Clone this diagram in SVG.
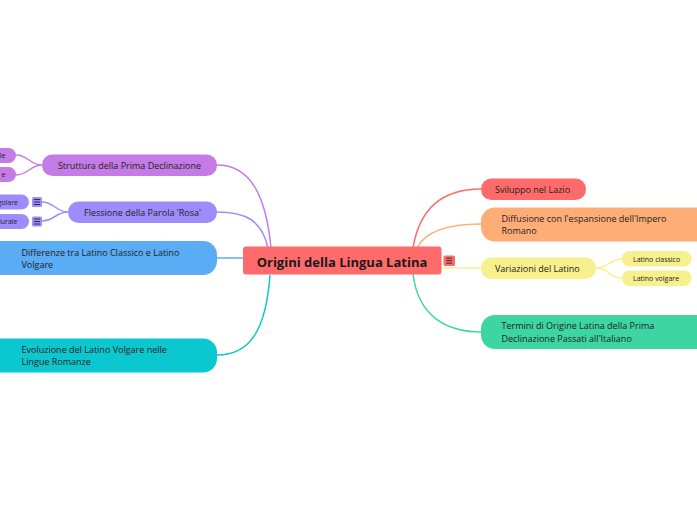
<svg xmlns="http://www.w3.org/2000/svg" width="697" height="520" viewBox="0 0 697 520">
<style>
.t{font-family:"Open Sans","Noto Sans",sans-serif;font-size:9px;fill:#222}
.s{font-family:"Open Sans","Noto Sans",sans-serif;font-size:7px;fill:#222}
.c{fill:none;stroke-width:1.5}
.ic{stroke:#333;stroke-width:1}
</style>
<defs>
<g id="icon"><line x1="-3" y1="-2.5" x2="3" y2="-2.5"/><line x1="-3" y1="0" x2="3" y2="0"/><line x1="-3" y1="2.5" x2="3" y2="2.5"/></g>
</defs>
<rect width="697" height="520" fill="#fff"/>
<g id="connectors">
<path class="c" stroke="#c57be5" d="M271,248 C266,195 250,165 217,165"/>
<path class="c" stroke="#9e8cfc" d="M268,248 C262,220 245,212 217,212"/>
<path class="c" stroke="#5aacf4" d="M217,258 L243,258"/>
<path class="c" stroke="#0ac7d0" d="M270,275 C266,330 250,355 217,355"/>
<path class="c" stroke="#ff6b6b" d="M413,248 C420,205 445,189 481,189"/>
<path class="c" stroke="#ffad77" d="M417,248 C425,232 445,224 481,224"/>
<path class="c" stroke="#f7f08c" d="M441,268 L481,268"/>
<path class="c" stroke="#3dd6a3" d="M413,274 C418,315 445,332 481,332"/>
<path class="c" stroke="#c57be5" d="M42,165 C30,165 28,155 16,155 M42,165 C30,165 28,175 16,175"/>
<path class="c" stroke="#9e8cfc" d="M68,212 C56,212 54,202 42,202 M68,212 C56,212 54,221 42,221"/>
<path class="c" stroke="#f7f08c" d="M596,268 C610,268 608,259 622,259 M596,268 C610,268 608,278 622,278"/>
</g>
<g id="central">
<rect x="243" y="246.5" width="198.5" height="28" rx="3" fill="#ff6b6b"/>
<text x="342" y="267" text-anchor="middle" style="font-family:'Open Sans','Noto Sans',sans-serif;font-size:13px;font-weight:bold;fill:#1a1a1a">Origini della Lingua Latina</text>
<rect x="443.5" y="255.5" width="11.5" height="10.5" rx="1.5" fill="#ff6b6b"/>
<use href="#icon" x="449.2" y="260.7" class="ic"/>
</g>
<g id="n-struttura">
<rect x="42" y="154.5" width="175" height="21.5" rx="10.5" fill="#c57be5"/>
<text class="t" x="129.5" y="168.5" text-anchor="middle">Struttura della Prima Declinazione</text>
</g>
<g id="n-struttura-a">
<rect x="-20" y="148" width="36" height="15" rx="7.5" fill="#c57be5"/>
<text class="s" x="5.5" y="158.3" text-anchor="end">le</text>
</g>
<g id="n-struttura-b">
<rect x="-20" y="167" width="36" height="15" rx="7.5" fill="#c57be5"/>
<text class="s" x="5.5" y="177.3" text-anchor="end">e</text>
</g>
<g id="n-flessione">
<rect x="68" y="201.5" width="149" height="21.5" rx="10.5" fill="#9e8cfc"/>
<text class="t" x="142.5" y="215.5" text-anchor="middle">Flessione della Parola 'Rosa'</text>
</g>
<g id="n-singolare">
<rect x="-20" y="194.5" width="49" height="15" rx="7.5" fill="#9e8cfc"/>
<text class="s" x="18" y="204.5" text-anchor="end">Singolare</text>
<rect x="32" y="197" width="10" height="10" rx="1.5" fill="#9e8cfc"/>
<use href="#icon" x="37" y="202" class="ic"/>
</g>
<g id="n-plurale">
<rect x="-20" y="214" width="49" height="15" rx="7.5" fill="#9e8cfc"/>
<text class="s" x="17.5" y="224" text-anchor="end">Plurale</text>
<rect x="32" y="216.5" width="10" height="10" rx="1.5" fill="#9e8cfc"/>
<use href="#icon" x="37" y="221.5" class="ic"/>
</g>
<g id="n-differenze">
<rect x="-20" y="241" width="237" height="34" rx="14" fill="#5aacf4"/>
<text class="t" x="21.5" y="255.5">Differenze tra Latino Classico e Latino</text>
<text class="t" x="21.5" y="267.5">Volgare</text>
</g>
<g id="n-evoluzione">
<rect x="-20" y="338.5" width="237" height="34" rx="14" fill="#0ac7d0"/>
<text class="t" x="21.5" y="353">Evoluzione del Latino Volgare nelle</text>
<text class="t" x="21.5" y="365">Lingue Romanze</text>
</g>
<g id="n-sviluppo">
<rect x="481" y="178.5" width="105" height="21.5" rx="10.5" fill="#ff6b6b"/>
<text class="t" x="495" y="192.5">Sviluppo nel Lazio</text>
</g>
<g id="n-diffusione">
<rect x="481" y="207.5" width="235" height="34" rx="14" fill="#ffad77"/>
<text class="t" x="501.5" y="221.5">Diffusione con l'espansione dell'Impero</text>
<text class="t" x="501.5" y="233.5">Romano</text>
</g>
<g id="n-variazioni">
<rect x="481" y="257.5" width="115" height="21.5" rx="10.5" fill="#f7f08c"/>
<text class="t" x="495" y="271.5">Variazioni del Latino</text>
</g>
<g id="n-classico">
<rect x="622" y="251" width="69.5" height="15.5" rx="7.5" fill="#f7f08c"/>
<text class="s" x="633" y="261.5">Latino classico</text>
</g>
<g id="n-volgare">
<rect x="622" y="270.5" width="69.5" height="15.5" rx="7.5" fill="#f7f08c"/>
<text class="s" x="633" y="281">Latino volgare</text>
</g>
<g id="n-termini">
<rect x="481" y="315" width="235" height="34" rx="14" fill="#3dd6a3"/>
<text class="t" x="501.5" y="329">Termini di Origine Latina della Prima</text>
<text class="t" x="501.5" y="341.5">Declinazione Passati all'Italiano</text>
</g>
</svg>
